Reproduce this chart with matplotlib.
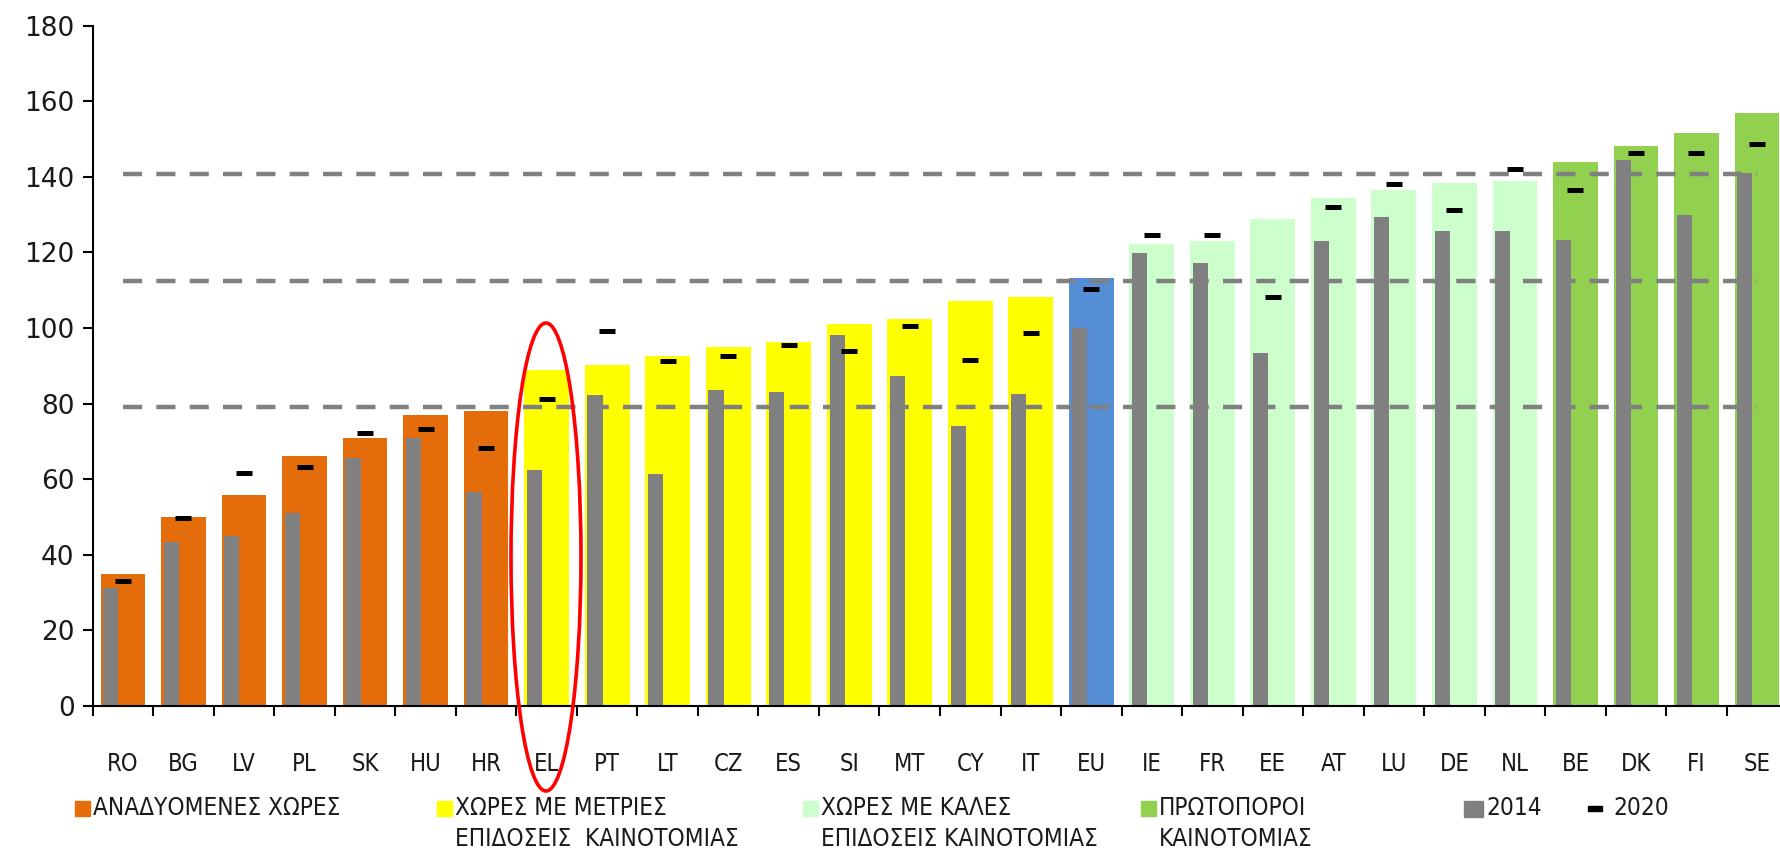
import matplotlib
matplotlib.use("Agg")
import matplotlib.pyplot as plt
from matplotlib.patches import Rectangle, Ellipse
import numpy as np

# --- data ---
countries = ["RO", "BG", "LV", "PL", "SK", "HU", "HR", "EL", "PT", "LT", "CZ", "ES",
             "SI", "MT", "CY", "IT", "EU", "IE", "FR", "EE", "AT", "LU", "DE", "NL",
             "BE", "DK", "FI", "SE"]
current = [35.0, 50.0, 55.9, 66.1, 70.9, 77.0, 78.1, 89.0, 90.2, 92.6, 95.1, 96.4,
           101.1, 102.4, 107.1, 108.3, 113.2, 122.2, 122.9, 128.8, 134.3, 136.6, 138.4, 139.0,
           143.8, 148.1, 151.6, 157.0]
v2014 = [31.3, 43.3, 45.1, 51.0, 65.6, 70.9, 56.6, 62.5, 82.4, 61.4, 83.7, 83.1,
         98.1, 87.3, 74.1, 82.5, 99.9, 119.9, 117.3, 93.4, 122.9, 129.4, 125.7, 125.7,
         123.4, 144.5, 130.0, 141.0]
v2020 = [33.2, 49.7, 61.7, 63.2, 72.2, 73.4, 68.3, 81.2, 99.3, 91.4, 92.5, 95.5,
         94.0, 100.6, 91.6, 98.6, 110.2, 124.7, 124.7, 108.2, 132.1, 138.1, 131.3, 142.0,
         136.6, 146.3, 146.3, 148.6]
group = ["emerging"] * 7 + ["moderate"] * 9 + ["eu"] + ["strong"] * 7 + ["leader"] * 4
thresholds = [79.2, 112.4, 140.8]

group_colors = {
    "emerging": "#E46C0A",
    "moderate": "#FFFF00",
    "eu": "#558ED5",
    "strong": "#CCFFCC",
    "leader": "#92D050",
}
legend_groups = [
    ("emerging", ["ΑΝΑΔΥΟΜΕΝΕΣ ΧΩΡΕΣ"]),
    ("moderate", ["ΧΩΡΕΣ ΜΕ ΜΕΤΡΙΕΣ", "ΕΠΙΔΟΣΕΙΣ  ΚΑΙΝΟΤΟΜΙΑΣ"]),
    ("strong", ["ΧΩΡΕΣ ΜΕ ΚΑΛΕΣ", "ΕΠΙΔΟΣΕΙΣ ΚΑΙΝΟΤΟΜΙΑΣ"]),
    ("leader", ["ΠΡΩΤΟΠΟΡΟΙ", "ΚΑΙΝΟΤΟΜΙΑΣ"]),
]
GREY = "#808080"
TXT = "#1a1a1a"

W, H = 1780, 851
fig = plt.figure(figsize=(W / 100, H / 100), dpi=100)
ax = fig.add_axes([92.7 / W, 145 / H, 1 - 92.7 / W, (706 - 25.6) / H])

x = np.arange(len(countries))
colors = [group_colors[g] for g in group]

# main bars, then the narrow 2014 bars on the left side of each
ax.bar(x, current, width=0.74, color=colors, zorder=2)
ax.bar(x - 0.2, v2014, width=0.25, color=GREY, zorder=3)

# threshold lines (drawn over bars)
for t in thresholds:
    ax.plot([x[0], x[-1]], [t, t], color=GREY, lw=3.2,
            linestyle=(0, (4.3, 3.2)), solid_capstyle="butt", zorder=4)

# 2020 markers
ax.plot(x, v2020, linestyle="none", marker="_", markersize=12, mew=3.6,
        color="black", zorder=5)

ax.set_xlim(-0.5, 27.38)
ax.set_ylim(0, 180)
ax.set_yticks(range(0, 181, 20))
ax.tick_params(axis="y", direction="out", length=7, width=1.5, pad=6,
               labelsize=19, labelcolor=TXT)

# category boundaries as ticks, labels at centres
ax.set_xticks(x)
ax.set_xticklabels(countries, fontsize=17, color=TXT, fontstretch="condensed")
ax.set_xticks(np.arange(-0.5, 27.5, 1.0), minor=True)
ax.tick_params(axis="x", which="major", length=0, pad=33)
ax.tick_params(axis="x", which="minor", direction="out", length=7, width=1.5)

for side in ["top", "right"]:
    ax.spines[side].set_visible(False)
ax.spines["left"].set_linewidth(1.5)
ax.spines["bottom"].set_linewidth(1.5)
ax.spines["bottom"].set_zorder(6)

# red ellipse highlighting EL
ell = Ellipse((546 / W, 1 - 557 / H), 70 / W, 468 / H, transform=fig.transFigure,
              fill=False, edgecolor="#FF0000", lw=2.6, zorder=10)
fig.add_artist(ell)


# --- manual legend along the bottom ---
def fx(px):
    return px / W


def fy(py):
    return 1 - py / H


sq = 15
line_y = [808, 839]
legend_x = [75, 437, 803, 1141]
for (g, lines), lx in zip(legend_groups, legend_x):
    fig.add_artist(Rectangle((fx(lx), fy(816)), sq / W, sq / H,
                             transform=fig.transFigure, color=group_colors[g]))
    for ly, line in zip(line_y, lines):
        fig.text(fx(lx + 18), fy(ly), line, fontsize=17.5, color=TXT, va="center",
                 ha="left", fontstretch="condensed")
fig.add_artist(Rectangle((fx(1464), fy(817)), 19 / W, 16 / H,
                         transform=fig.transFigure, color=GREY))
fig.text(fx(1486), fy(808), "2014", fontsize=17.5, color=TXT, va="center",
         fontstretch="condensed")
fig.add_artist(Rectangle((fx(1588), fy(811)), 14 / W, 5 / H,
                         transform=fig.transFigure, color="black"))
fig.text(fx(1613), fy(808), "2020", fontsize=17.5, color=TXT, va="center",
         fontstretch="condensed")

fig.savefig("out.png", dpi=100)
